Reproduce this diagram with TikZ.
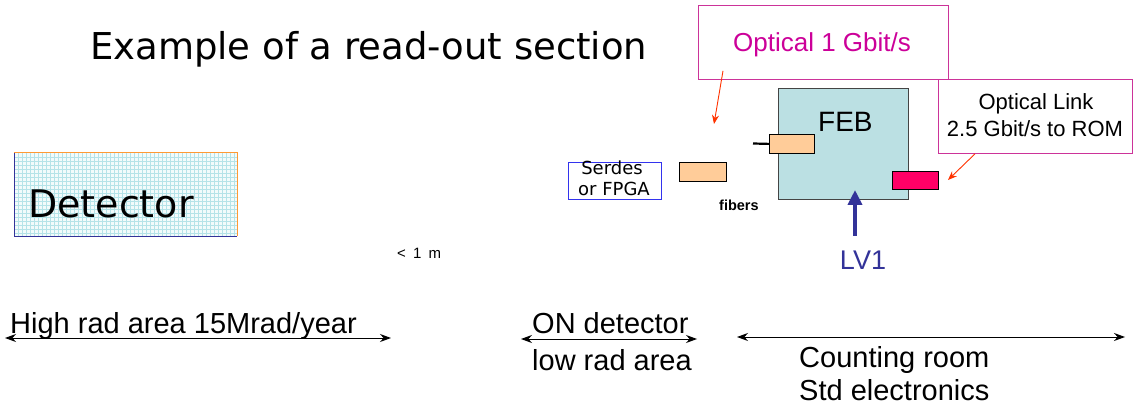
\documentclass[tikz,border=0pt]{standalone}
\usepackage{fontspec}
\setmainfont{Liberation Sans}
\newfontfamily\comic{DejaVu Sans}
\usetikzlibrary{arrows.meta}
\definecolor{peach}{HTML}{FFCC99}
\definecolor{febfill}{HTML}{BBE0E3}
\definecolor{febline}{HTML}{444444}
\definecolor{linkred}{HTML}{FF0066}
\definecolor{magline}{HTML}{CC3399}
\definecolor{magtext}{HTML}{CC0099}
\definecolor{arrred}{HTML}{FF3300}
\definecolor{serdesblue}{HTML}{3333EE}
\definecolor{lvblue}{HTML}{333399}
\definecolor{gridbg}{HTML}{F2FBFB}
\definecolor{gridln}{HTML}{B5E3E8}
\definecolor{detorange}{HTML}{FF9933}
\tikzset{
  px/.style={font=\fontsize{#1}{#1}\selectfont},
  box/.style={inner sep=0pt, anchor=north west},
  peachbox/.style={box, draw=black, fill=peach, line width=0.8pt},
  callout/.style={box, draw=magline, line width=0.8pt},
  redarrow/.style={draw=arrred, line width=0.9pt, -{Stealth[length=9pt,width=7pt]}},
  spanarrow/.style={draw=black, line width=1pt, {Stealth[length=11pt,width=8pt]}-{Stealth[length=11pt,width=8pt]}},
}
\begin{document}
\begin{tikzpicture}[x=1pt,y=-1pt]
\useasboundingbox[fill=white] (0,0) rectangle (1134,411);

% title
\node[anchor=base west, inner sep=0, font=\comic\fontsize{37}{37}\selectfont] (title) at (90,60) {Example of a read-out section};

% detector
\fill[gridbg] (14,153) rectangle (237,236);
\foreach \x in {18,22,...,236} \draw[gridln, line width=0.4pt] (\x,153) -- (\x,236);
\foreach \y in {157,161,...,235} \draw[gridln, line width=0.4pt] (14,\y) -- (237,\y);
\node[box, minimum width=223pt, minimum height=83pt] (det) at (14,153) {};
\draw[lvblue, line width=1pt] (det.north west) -- (det.south west) -- (det.south east);
\draw[detorange, line width=1pt] (det.south east) -- (det.north east) -- (det.north west);
\node[anchor=base west, inner sep=0, font=\comic\fontsize{38}{38}\selectfont] (dettext) at (28,218) {Detector};

% serdes
\node[box, draw=serdesblue, line width=0.9pt, minimum width=93pt, minimum height=37pt] (serdes) at (568,162) {};
\node[anchor=base, inner sep=0, font=\comic\fontsize{18}{18}\selectfont] (serdes1) at (612,175) {Serdes};
\node[anchor=base, inner sep=0, font=\comic\fontsize{18}{18}\selectfont] (serdes2) at (614,196) {or FPGA};

% first converter
\node[peachbox, minimum width=47pt, minimum height=19pt] (conv1) at (679,162) {};
\node[anchor=base west, inner sep=0, font=\bfseries\fontsize{14.5}{14.5}\selectfont] (fibers) at (719,211) {fibers};

% FEB
\node[box, draw=febline, fill=febfill, line width=1pt, minimum width=130pt, minimum height=111pt] (feb) at (778,88) {};
\node[anchor=base west, inner sep=0, px=28] (febtext) at (818,132) {FEB};
\node[peachbox, minimum width=45pt, minimum height=19pt] (conv2) at (769,134) {};
\coordinate (stub) at (753,143.5);
\draw[black, line width=2.2pt] (stub) -- (conv2.west);
\node[box, draw=black, fill=linkred, line width=0.8pt, minimum width=46pt, minimum height=18pt] (link) at (892,171) {};

% LV1
\node[anchor=base, inner sep=0, px=27, text=lvblue] (lv1) at (863,270) {LV1};
\coordinate (lvtip) at (855,190);
\draw[lvblue, line width=4pt, -{Triangle[length=15pt,width=14pt]}] (855,236) -- (lvtip);

% callouts
\node[callout, minimum width=250pt, minimum height=74pt] (opt1) at (698,5) {};
\node[anchor=base, inner sep=0, px=26, text=magtext] (opt1text) at (822,52) {Optical 1 Gbit/s};
\coordinate (opt1tip) at (714,124);
\draw[redarrow] ([shift={(25,-9)}]opt1.south west) -- (opt1tip);

\node[callout, minimum width=194pt, minimum height=74pt] (opt2) at (938,79) {};
\node[anchor=base, inner sep=0, px=22] (opt2a) at (1036,110) {Optical Link};
\node[anchor=base, inner sep=0, px=22] (opt2b) at (1035,137) {2.5 Gbit/s to ROM};
\coordinate (opt2tip) at (948,180);
\draw[redarrow] ([xshift=37pt]opt2.south west) -- (opt2tip);

% distance
\node[anchor=base west, inner sep=0, px=15] (dist) at (397,259) {<\hspace{3pt} 1\hspace{3pt} m};

% spans
\coordinate (hrl) at (5,338);
\coordinate (hrr) at (391,338);
\draw[spanarrow] (hrl) -- (hrr);
\node[anchor=base west, inner sep=0, px=29] (hrtext) at (10,333) {High rad area 15Mrad/year};

\coordinate (onl) at (521,339);
\coordinate (onr) at (697,339);
\draw[spanarrow] (onl) -- (onr);
\node[anchor=base west, inner sep=0, px=29] (ontext) at (532,334) {ON detector};
\node[anchor=base west, inner sep=0, px=29] (lowtext) at (532,370) {low rad area};

\coordinate (crl) at (737,337);
\coordinate (crr) at (1125,337);
\draw[spanarrow] (crl) -- (crr);
\node[anchor=base west, inner sep=0, px=29] (crtext) at (799,367) {Counting room};
\node[anchor=base west, inner sep=0, px=29] (stdtext) at (799,400) {Std electronics};
\end{tikzpicture}
\end{document}
